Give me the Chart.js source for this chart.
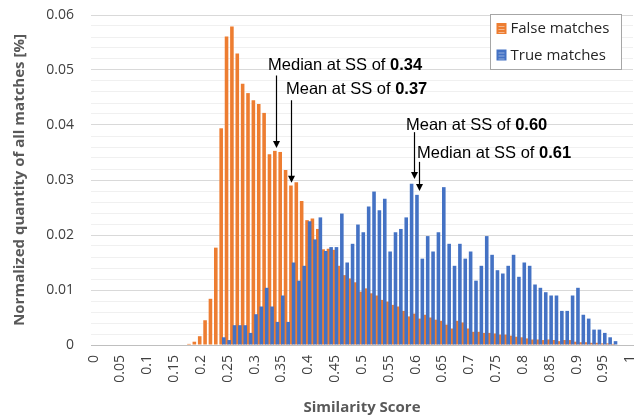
<!DOCTYPE html>
<html>
<head>
<meta charset="utf-8">
<script src="https://cdn.jsdelivr.net/npm/chart.js@4.4.1/dist/chart.umd.min.js"></script>
<style>
  html, body { margin: 0; padding: 0; background: #ffffff; }
  canvas { display: block; }
</style>
</head>
<body>
<canvas id="c" width="639" height="420"></canvas>
<script>
const categories = ["0","0.01","0.02","0.03","0.04","0.05","0.06","0.07","0.08","0.09",
  "0.1","0.11","0.12","0.13","0.14","0.15","0.16","0.17","0.18","0.19",
  "0.2","0.21","0.22","0.23","0.24","0.25","0.26","0.27","0.28","0.29",
  "0.3","0.31","0.32","0.33","0.34","0.35","0.36","0.37","0.38","0.39",
  "0.4","0.41","0.42","0.43","0.44","0.45","0.46","0.47","0.48","0.49",
  "0.5","0.51","0.52","0.53","0.54","0.55","0.56","0.57","0.58","0.59",
  "0.6","0.61","0.62","0.63","0.64","0.65","0.66","0.67","0.68","0.69",
  "0.7","0.71","0.72","0.73","0.74","0.75","0.76","0.77","0.78","0.79",
  "0.8","0.81","0.82","0.83","0.84","0.85","0.86","0.87","0.88","0.89",
  "0.9","0.91","0.92","0.93","0.94","0.95","0.96","0.97","0.98","0.99","1"];

const falseMatches = [0,0,0,0,0,0,0,0,0,0,
  0,0,0,0,0,0,0,0,0.0002,0.0006,
  0.0016,0.0045,0.0084,0.0177,0.0394,0.0561,0.0579,0.0530,0.0475,0.0458,
  0.0445,0.0438,0.0422,0.0347,0.0353,0.0351,0.0318,0.0290,0.0296,0.0262,
  0.0227,0.0230,0.0211,0.0174,0.0175,0.0173,0.0144,0.0127,0.0121,0.0114,
  0.0097,0.0103,0.0094,0.0090,0.0082,0.0079,0.0073,0.0070,0.0062,0.0052,
  0.0057,0.0048,0.0055,0.0050,0.0046,0.0044,0.0037,0.0030,0.0044,0.0041,
  0.0030,0.0024,0.0024,0.0022,0.0022,0.0021,0.0019,0.0019,0.0017,0.0015,
  0.0014,0.0012,0.0010,0.0010,0.0009,0.0010,0.0009,0.0007,0.0009,0.0009,
  0.0006,0.0005,0.0005,0.0004,0.0004,0.0003,0.0003,0.0002,0.0001,0,
  0];

const trueMatches = [0,0,0,0,0,0,0,0,0,0,
  0,0,0,0,0,0,0,0,0,0,
  0,0,0,0,0.0014,0.0009,0.0036,0.0036,0.0036,0.0022,
  0.0056,0.0070,0.0104,0.0070,0.0042,0.0090,0.0042,0.0150,0.0117,0.0144,
  0.0225,0.0192,0.0232,0.0171,0.0178,0.0178,0.0239,0.0150,0.0184,0.0219,
  0.0205,0.0252,0.0279,0.0245,0.0266,0.0170,0.0205,0.0211,0.0232,0.0293,
  0.0273,0.0157,0.0198,0.0170,0.0205,0.0287,0.0184,0.0144,0.0184,0.0157,
  0.0170,0.0117,0.0144,0.0198,0.0164,0.0136,0.0130,0.0144,0.0164,0.0124,
  0.0150,0.0144,0.0110,0.0104,0.0096,0.0090,0.0090,0.0062,0.0062,0.0090,
  0.0104,0.0055,0.0048,0.0028,0.0028,0.0022,0.0014,0.0007,0,0,
  0];

const xTickLabels = ["0","0.05","0.1","0.15","0.2","0.25","0.3","0.35","0.4","0.45","0.5",
  "0.55","0.6","0.65","0.7","0.75","0.8","0.85","0.9","0.95","1"];
const yTickLabels = ["0","0.01","0.02","0.03","0.04","0.05","0.06"];

const seriesNames = ["False matches", "True matches"];
const seriesColors = ["#ED7D31", "#4472C4"];

// Annotation texts and arrows (x in category-index units, y in data units)
const annotations = [
  { textX: 32.49, textY: 0.0509, arrowX: 33.93, y1: 0.0490, y2: 0.0358, label: "Median at SS of ", bold: "0.34" },
  { textX: 35.84, textY: 0.0464, arrowX: 36.77, y1: 0.0445, y2: 0.0295, label: "Mean at SS of ", bold: "0.37" },
  { textX: 58.20, textY: 0.0400, arrowX: 59.75, y1: 0.0387, y2: 0.0302, label: "Mean at SS of ", bold: "0.60" },
  { textX: 60.25, textY: 0.0349, arrowX: 60.63, y1: 0.0333, y2: 0.0280, label: "Median at SS of ", bold: "0.61" }
];

const TICK_FONT = "'Open Sans', 'DejaVu Sans', sans-serif";
const ANN_FONT = "'Liberation Sans', Arial, sans-serif";

const blueOnTop = {
  id: 'blueOnTop',
  beforeDatasetDraw(chart, args) {
    if (args.index === 1 && !chart.$drawingTop) return false;
  },
  afterDatasetsDraw(chart) {
    const meta = chart.getDatasetMeta(1);
    if (meta.hidden) return;
    const ctx = chart.ctx, a = chart.chartArea;
    ctx.save();
    ctx.beginPath();
    ctx.rect(a.left, a.top, a.right - a.left, a.bottom - a.top);
    ctx.clip();
    chart.$drawingTop = true;
    meta.controller.draw();
    chart.$drawingTop = false;
    ctx.restore();
  }
};

const annotationPlugin = {
  id: 'annot',
  afterDraw(chart) {
    const ctx = chart.ctx;
    const xs = chart.scales.x, ys = chart.scales.y;
    ctx.save();
    annotations.forEach(a => {
      const tx = xs.getPixelForValue(a.textX);
      const ty = ys.getPixelForValue(a.textY);
      ctx.textBaseline = 'middle';
      ctx.textAlign = 'left';
      ctx.fillStyle = '#000000';
      ctx.font = "16.5px " + ANN_FONT;
      ctx.fillText(a.label, tx, ty);
      const w = ctx.measureText(a.label).width;
      ctx.font = "bold 16.5px " + ANN_FONT;
      ctx.fillText(a.bold, tx + w, ty);
      const ax = Math.round(xs.getPixelForValue(a.arrowX)) + 0.5;
      const y1 = ys.getPixelForValue(a.y1);
      const y2 = ys.getPixelForValue(a.y2);
      ctx.strokeStyle = '#000000';
      ctx.lineWidth = 1.2;
      ctx.beginPath();
      ctx.moveTo(ax, y1);
      ctx.lineTo(ax, y2 - 6);
      ctx.stroke();
      ctx.beginPath();
      ctx.moveTo(ax - 3.5, y2 - 7);
      ctx.lineTo(ax + 3.5, y2 - 7);
      ctx.lineTo(ax, y2);
      ctx.closePath();
      ctx.fill();
    });
    ctx.restore();
  }
};

const legendBox = {
  id: 'legendBox',
  afterDraw(chart) {
    const ctx = chart.ctx;
    const a = chart.chartArea;
    const x0 = a.right - 142.5, y0 = 14.5, w = 131, h = 55;
    ctx.save();
    ctx.fillStyle = '#ffffff';
    ctx.fillRect(x0, y0, w, h);
    ctx.strokeStyle = '#a6a6a6';
    ctx.lineWidth = 1;
    ctx.strokeRect(x0, y0, w, h);
    chart.data.datasets.forEach((ds, i) => {
      const cy = y0 + 14 + i * 26.5;
      const mx = x0 + 6;
      ctx.fillStyle = ds.backgroundColor;
      ctx.fillRect(mx, cy - 5.5, 10, 11);
      ctx.strokeStyle = 'rgba(255,255,255,0.45)';
      ctx.lineWidth = 1;
      for (let k = 0; k < 3; k++) {
        ctx.beginPath();
        ctx.moveTo(mx + 2, cy - 2.5 + k * 3 + 0.5);
        ctx.lineTo(mx + 8, cy - 2.5 + k * 3 + 0.5);
        ctx.stroke();
      }
      ctx.fillStyle = '#262626';
      ctx.font = "15px " + TICK_FONT;
      ctx.textAlign = 'left';
      ctx.textBaseline = 'middle';
      ctx.fillText(ds.label, mx + 14, cy + 0.5);
    });
    ctx.restore();
  }
};

new Chart(document.getElementById('c'), {
  type: 'bar',
  data: {
    labels: categories,
    datasets: [
      { label: seriesNames[0], data: falseMatches, backgroundColor: seriesColors[0], borderWidth: 0 },
      { label: seriesNames[1], data: trueMatches, backgroundColor: seriesColors[1], borderWidth: 0 }
    ]
  },
  options: {
    responsive: false,
    animation: false,
    devicePixelRatio: 1,
    categoryPercentage: 0.97,
    barPercentage: 1.38,
    layout: { padding: { top: 15, right: 6, left: 0, bottom: 0 } },
    plugins: {
      legend: { display: false },
      tooltip: { enabled: false }
    },
    scales: {
      x: {
        grid: { display: false, drawTicks: false },
        border: { display: true, color: '#bfbfbf', width: 1 },
        ticks: {
          autoSkip: false,
          maxRotation: 90,
          minRotation: 90,
          padding: 10,
          color: '#404040',
          font: { family: TICK_FONT, size: 14 },
          callback: function(value, index) {
            const lab = categories[index];
            return xTickLabels.includes(lab) ? lab : '';
          }
        },
        title: {
          display: true,
          text: 'Similarity Score',
          color: '#595959',
          font: { family: TICK_FONT, size: 15, weight: 'bold' },
          padding: { top: 0, bottom: 3 }
        },
        afterFit(scale) {
          scale.height = 75;
          scale.paddingLeft = 0;
          scale.paddingRight = 0;
        }
      },
      y: {
        min: 0,
        max: 0.06,
        grid: {
          drawTicks: false,
          color: ctx => {
            const v = Math.round(ctx.tick.value * 1000);
            if (v === 0) return '#bfbfbf';
            return (v % 10 === 0) ? '#d9d9d9' : '#f0f0f0';
          }
        },
        border: { display: false },
        ticks: {
          stepSize: 0.002,
          autoSkip: false,
          padding: 17,
          color: '#404040',
          font: { family: TICK_FONT, size: 14 },
          callback: function(value) {
            const v = Math.round(value * 1000);
            if (v % 10 !== 0) return '';
            return yTickLabels[v / 10];
          }
        },
        title: {
          display: true,
          text: 'Normalized quantity of all matches [%]',
          color: '#595959',
          font: { family: TICK_FONT, size: 15, weight: 'bold' },
          padding: { top: 11, bottom: 0 }
        },
        afterFit(scale) {
          scale.width = 91;
          scale.paddingTop = 0;
          scale.paddingBottom = 0;
        }
      }
    }
  },
  plugins: [blueOnTop, annotationPlugin, legendBox]
});
</script>
</body>
</html>
